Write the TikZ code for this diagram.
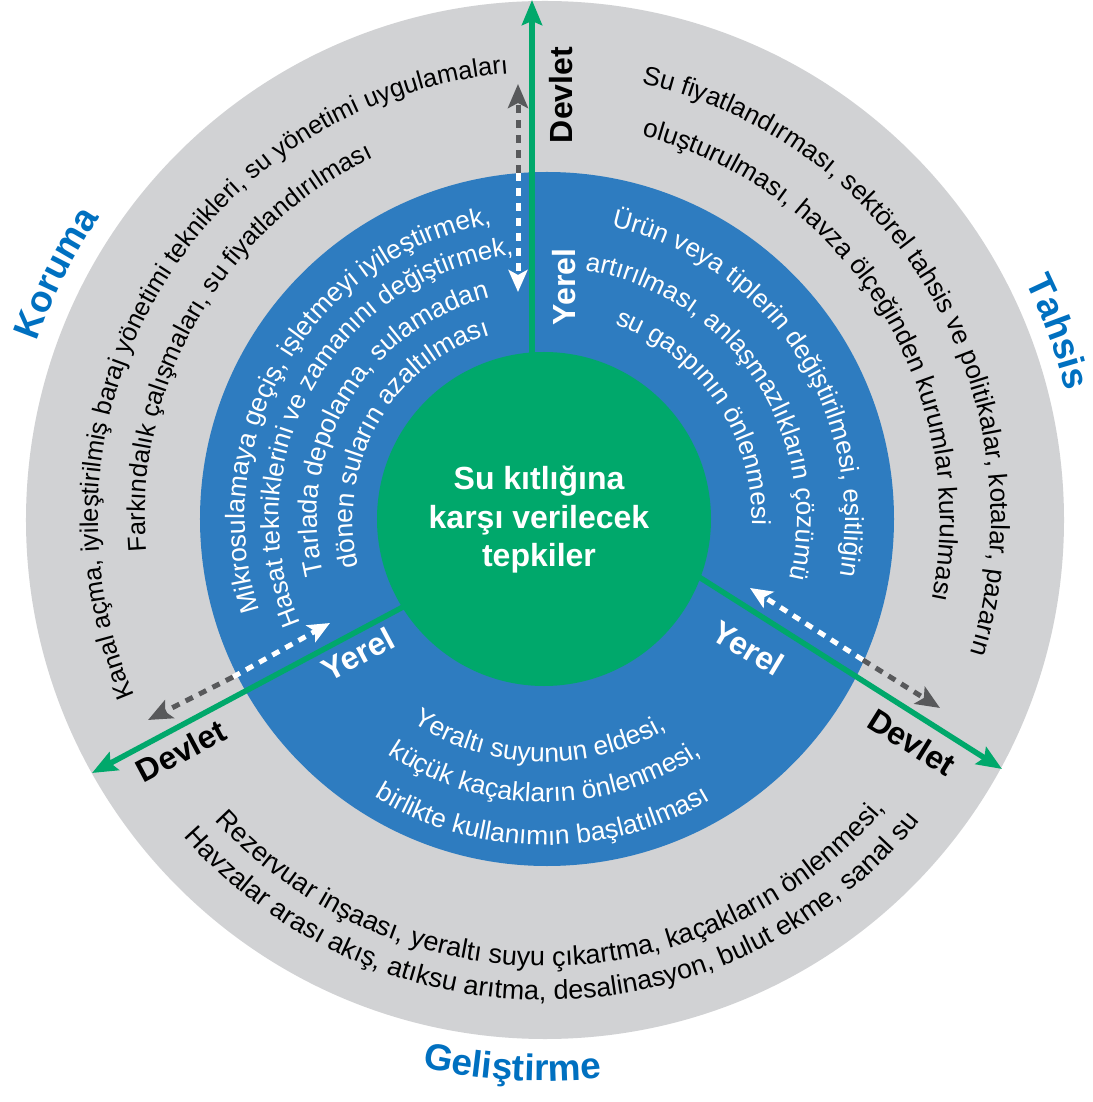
\documentclass[tikz,border=0pt]{standalone}
\usepackage{fontspec}
\setmainfont{Liberation Sans}
\usetikzlibrary{decorations.text,arrows.meta}

\definecolor{ringgray}{RGB}{209,210,212}
\definecolor{ringblue}{RGB}{46,124,192}
\definecolor{coregreen}{RGB}{0,168,107}
\definecolor{titleblue}{RGB}{0,112,192}
\definecolor{dashgray}{RGB}{88,89,91}

% text on an arc around the origin, letter tops pointing away from the centre
% #1 radius, #2 middle angle, #3 font, #4 colour, #5 text
\newcommand\cwtext[5]{%
  \pgfmathsetmacro\rtA{#2+85}\pgfmathsetmacro\rtB{#2-85}%
  \path[decorate,decoration={text along path,text align=center,text color=#4,
      text={|#3|#5}}]
    (\rtA:#1) arc[start angle=\rtA,end angle=\rtB,radius=#1];}
% same, letter tops pointing towards the centre
\newcommand\ccwtext[5]{%
  \pgfmathsetmacro\rtA{#2-85}\pgfmathsetmacro\rtB{#2+85}%
  \path[decorate,decoration={text along path,text align=center,text color=#4,
      text={|#3|#5}}]
    (\rtA:#1) arc[start angle=\rtA,end angle=\rtB,radius=#1];}

\newcommand\txtsize[1]{\fontsize{#1}{#1}\selectfont}
\newcommand\headtxt{\fontsize{37}{37}\selectfont\bfseries}

\begin{document}
\begin{tikzpicture}[x=1pt,y=1pt,
  disc/.style={circle,inner sep=0pt,draw=none},
  lbl/.style={font=\fontsize{32}{32}\selectfont\bfseries,inner sep=0pt},
  link/.style={line width=5.5pt,draw=coregreen,
      -{Stealth[length=25pt,width=20pt,inset=4pt]}},
  dashin/.style={draw=white,line width=5pt,dash pattern=on 8pt off 7pt,
      -{Stealth[length=22pt,width=19pt,inset=5pt,fill=white]}},
  dashout/.style={draw=dashgray,line width=5pt,dash pattern=on 8pt off 7pt,
      -{Stealth[length=24pt,width=20pt,inset=5pt,fill=dashgray]}}]

\useasboundingbox (-545,519) rectangle (547,-583);
\fill[white] (-545,519) rectangle (547,-583);

% rings
\node[disc,fill=ringgray,minimum size=1038pt] (outer) at (0,-1) {};
\node[disc,fill=ringblue,minimum size=694pt] (mid) at (2,0) {};

% green links from the centre outwards
\coordinate (sT) at (-13,40);   \coordinate (tT) at (-13,519);
\coordinate (sL) at (-98,-64.5);\coordinate (tL) at (-453,-254);
\coordinate (sR) at (113,-32);  \coordinate (tR) at (457,-250);
\draw[link] (sT) -- (tT);
\draw[link] (sL) -- (tL);
\draw[link] (sR) -- (tR);

% centre disc
\node[disc,fill=coregreen,minimum size=334pt] (core) at (-1,0) {};
\node[font=\fontsize{32}{38.5}\selectfont\bfseries,text=white,align=center]
  (title) at (-6,-1) {Su kıtlığına\\karşı verilecek\\tepkiler};

% dashed two-way arrows (local inside, state outside)
\coordinate (dTi) at (-27,227); \coordinate (dTb) at (-27,346); \coordinate (dTo) at (-27,435);
\coordinate (dLi) at (-215,-104); \coordinate (dLb) at (-312,-158); \coordinate (dLo) at (-397,-201);
\coordinate (dRi) at (205,-69); \coordinate (dRb) at (318,-141); \coordinate (dRo) at (395,-189);
\draw[dashin] (dTb) -- (dTi);  \draw[dashout] (dTb) -- (dTo);
\draw[dashin] (dLb) -- (dLi);  \draw[dashout] (dLb) -- (dLo);
\draw[dashin] (dRb) -- (dRi);  \draw[dashout] (dRb) -- (dRo);

% level labels
\node[lbl,rotate=90] (devT) at (16,424) {Devlet};
\node[lbl,rotate=90,text=white] (yerT) at (19,232) {Yerel};
\node[lbl,rotate=28,text=white] (yerL) at (-187,-135) {Yerel};
\node[lbl,rotate=28] (devL) at (-364,-232) {Devlet};
\node[lbl,rotate=-31,text=white] (yerR) at (203,-129) {Yerel};
\node[lbl,rotate=-32] (devR) at (367,-223) {Devlet};

% section headings
\cwtext{538}{153.3}{\headtxt}{titleblue}{Koruma}
\cwtext{536}{20}{\headtxt}{titleblue}{Tahsis}
\ccwtext{562}{266.6}{\headtxt}{titleblue}{Geliştirme}

% outer ring texts
\cwtext{447}{149}{\txtsize{25.5}}{black}{Kanal açma, iyileştirilmiş baraj yönetimi teknikleri, su yönetimi uygulamaları}
\cwtext{400}{150}{\txtsize{25.5}}{black}{Farkındalık çalışmaları, su fiyatlandırılması}
\cwtext{446}{30}{\txtsize{26.2}}{black}{Su fiyatlandırması, sektörel tahsis ve politikalar, kotalar, pazarın}
\cwtext{395}{32}{\txtsize{26.2}}{black}{oluşturulması, havza ölçeğinden kurumlar kurulması}
\ccwtext{447}{271}{\txtsize{27}}{black}{Rezervuar inşaası, yeraltı suyu çıkartma, kaçakların önlenmesi,}
\ccwtext{481}{271.2}{\txtsize{27}}{black}{Havzalar arası akış, atıksu arıtma, desalinasyon, bulut ekme, sanal su}

% middle ring texts
\cwtext{300}{149}{\txtsize{26.5}}{white}{Mikrosulamaya geçiş, işletmeyi iyileştirmek,}
\cwtext{266}{150}{\txtsize{26}}{white}{Hasat tekniklerini ve zamanını değiştirmek,}
\cwtext{228}{149}{\txtsize{26.5}}{white}{Tarlada depolama, sulamadan}
\cwtext{192}{150.5}{\txtsize{26.5}}{white}{dönen suların azaltılması}

\cwtext{300}{33.2}{\txtsize{26}}{white}{Ürün veya tiplerin değiştirilmesi, eşitliğin}
\cwtext{252}{33.6}{\txtsize{26}}{white}{artırılması, anlaşmazlıkların çözümü}
\cwtext{207}{34.3}{\txtsize{26}}{white}{su gaspının önlenmesi}

\ccwtext{243}{268.5}{\txtsize{26.5}}{white}{Yeraltı suyunun eldesi,}
\ccwtext{283}{270}{\txtsize{26.5}}{white}{küçük kaçakların önlenmesi,}
\ccwtext{326}{269.5}{\txtsize{26.5}}{white}{birlikte kullanımın başlatılması}
\end{tikzpicture}
\end{document}
